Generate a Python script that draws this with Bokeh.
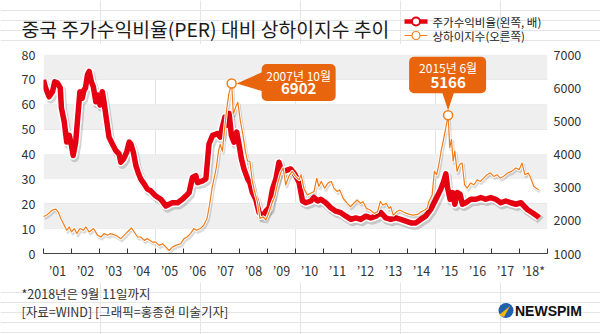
import numpy as np
from bokeh.plotting import figure
from bokeh.layouts import column
from bokeh.models import (Range1d, LinearAxis, FixedTicker, BoxAnnotation, Label, ColumnDataSource)
from bokeh.core.properties import value
from bokeh.transform import dodge
from bokeh.embed import file_html
from bokeh.resources import INLINE

# ---------------- data ----------------
per_year = [2001.00, 2001.08, 2001.20, 2001.32, 2001.40, 2001.50, 2001.60, 2001.64, 2001.74, 2001.83,
            2001.92, 2002.00, 2002.06, 2002.15, 2002.24, 2002.30, 2002.38, 2002.45, 2002.50, 2002.57,
            2002.63, 2002.71, 2002.78, 2002.87, 2002.95, 2003.02, 2003.10, 2003.16, 2003.26, 2003.34,
            2003.46, 2003.58, 2003.70, 2003.76, 2003.86, 2003.97, 2004.06, 2004.12, 2004.21, 2004.30,
            2004.38, 2004.47, 2004.60, 2004.71, 2004.83, 2005.01, 2005.19, 2005.37, 2005.49, 2005.60,
            2005.79, 2005.96, 2006.08, 2006.20, 2006.32, 2006.44, 2006.50, 2006.68, 2006.80, 2006.91,
            2007.04, 2007.21, 2007.31, 2007.39, 2007.48, 2007.55, 2007.63, 2007.71, 2007.80, 2007.90,
            2007.99, 2008.07, 2008.16, 2008.29, 2008.37, 2008.46, 2008.58, 2008.70, 2008.82, 2008.94,
            2009.06, 2009.18, 2009.30, 2009.41, 2009.50, 2009.65, 2009.83, 2009.97, 2010.13, 2010.25,
            2010.37, 2010.55, 2010.66, 2010.79, 2010.90, 2011.08, 2011.26, 2011.44, 2011.62, 2011.80,
            2011.98, 2012.15, 2012.33, 2012.51, 2012.69, 2012.87, 2013.05, 2013.22, 2013.40, 2013.58,
            2013.76, 2013.94, 2014.12, 2014.30, 2014.47, 2014.65, 2014.83, 2014.95, 2015.07, 2015.19,
            2015.28, 2015.37, 2015.43, 2015.52, 2015.61, 2015.69, 2015.78, 2015.88, 2015.96, 2016.08,
            2016.26, 2016.44, 2016.62, 2016.79, 2016.97, 2017.15, 2017.33, 2017.51, 2017.69, 2017.87,
            2018.05, 2018.16, 2018.28, 2018.46, 2018.64, 2018.70]
per_value = [69.8, 66.4, 63.0, 65.0, 69.0, 68.5, 66.6, 58.5, 53.0, 44.8,
             47.5, 43.4, 39.4, 44.8, 57.0, 65.0, 62.4, 65.8, 66.5, 71.9,
             73.2, 69.0, 67.0, 61.0, 63.7, 59.7, 65.0, 61.0, 53.0, 46.8,
             44.0, 41.4, 40.0, 36.7, 38.0, 40.7, 44.8, 44.0, 40.7, 35.3,
             32.6, 30.0, 27.9, 25.9, 25.2, 23.1, 21.8, 19.1, 19.8, 20.4,
             20.4, 21.8, 23.1, 24.5, 30.6, 31.3, 28.5, 29.2, 30.0, 44.0,
             47.5, 48.2, 46.8, 50.9, 54.9, 51.6, 56.3, 47.5, 44.8, 48.8,
             43.4, 38.0, 34.0, 30.0, 28.5, 24.5, 21.8, 16.4, 15.0, 17.0,
             18.4, 25.9, 30.0, 36.7, 33.3, 33.3, 34.0, 32.0, 28.5, 21.1,
             20.4, 21.1, 22.5, 21.1, 21.8, 20.4, 18.4, 17.0, 16.4, 15.0,
             13.7, 14.3, 13.7, 15.0, 14.3, 15.0, 16.4, 14.3, 13.7, 14.3,
             13.7, 13.0, 12.3, 12.3, 13.7, 15.0, 17.7, 20.4, 23.1, 25.9,
             28.5, 32.0, 26.5, 21.8, 24.5, 19.8, 24.5, 23.8, 19.8, 20.4,
             21.8, 21.8, 22.5, 21.8, 22.5, 21.8, 20.4, 21.1, 20.4, 19.8,
             20.4, 19.1, 17.7, 16.4, 15.0, 14.3]

sh_year = [2001.00, 2001.14, 2001.32, 2001.44, 2001.52, 2001.62, 2001.74, 2001.83, 2001.92, 2002.00,
           2002.10, 2002.19, 2002.30, 2002.43, 2002.51, 2002.63, 2002.79, 2002.93, 2003.05, 2003.16,
           2003.29, 2003.40, 2003.58, 2003.76, 2003.94, 2004.06, 2004.14, 2004.24, 2004.36, 2004.47,
           2004.60, 2004.71, 2004.89, 2005.01, 2005.13, 2005.25, 2005.37, 2005.49, 2005.60, 2005.72,
           2005.90, 2006.02, 2006.13, 2006.25, 2006.37, 2006.46, 2006.60, 2006.72, 2006.84, 2006.93,
           2007.02, 2007.07, 2007.17, 2007.25, 2007.31, 2007.39, 2007.46, 2007.55, 2007.62, 2007.72,
           2007.78, 2007.86, 2007.94, 2008.03, 2008.12, 2008.21, 2008.29, 2008.37, 2008.46, 2008.54,
           2008.64, 2008.73, 2008.85, 2008.94, 2009.06, 2009.18, 2009.26, 2009.35, 2009.47, 2009.56,
           2009.65, 2009.76, 2009.88, 2010.00, 2010.13, 2010.20, 2010.30, 2010.42, 2010.54, 2010.66,
           2010.76, 2010.83, 2010.92, 2011.04, 2011.16, 2011.28, 2011.37, 2011.49, 2011.58, 2011.70,
           2011.85, 2011.96, 2012.08, 2012.20, 2012.32, 2012.41, 2012.53, 2012.67, 2012.81, 2012.93,
           2013.03, 2013.12, 2013.24, 2013.34, 2013.40, 2013.49, 2013.61, 2013.72, 2013.84, 2013.96,
           2014.08, 2014.19, 2014.37, 2014.49, 2014.61, 2014.70, 2014.76, 2014.88, 2014.96, 2015.04,
           2015.12, 2015.20, 2015.30, 2015.37, 2015.45, 2015.51, 2015.57, 2015.63, 2015.69, 2015.77,
           2015.86, 2015.95, 2016.04, 2016.13, 2016.25, 2016.37, 2016.49, 2016.60, 2016.72, 2016.84,
           2016.96, 2017.08, 2017.20, 2017.31, 2017.43, 2017.57, 2017.72, 2017.87, 2017.99, 2018.09,
           2018.19, 2018.31, 2018.40, 2018.51, 2018.60, 2018.69]
sh_value = [2106, 2179, 2310, 2340, 2258, 2057, 1853, 1700, 1801, 1649,
            1752, 1600, 1752, 1700, 1801, 1649, 1752, 1548, 1497, 1600,
            1548, 1600, 1548, 1448, 1600, 1700, 1771, 1649, 1497, 1497,
            1396, 1448, 1344, 1344, 1244, 1295, 1192, 1091, 1192, 1244,
            1295, 1448, 1497, 1600, 1752, 1700, 1752, 1853, 2057, 2462,
            2970, 3172, 3580, 4086, 4290, 4086, 4695, 5408, 5813, 6124,
            5203, 5408, 5560, 5000, 4594, 4086, 3781, 3781, 3172, 2867,
            2563, 2057, 2106, 2005, 2258, 2563, 2715, 3071, 3428, 3580,
            3071, 3324, 3476, 3324, 3224, 3376, 2970, 2767, 2818, 2867,
            3275, 3020, 3172, 2970, 3123, 3172, 2970, 2867, 2919, 2666,
            2514, 2410, 2514, 2614, 2514, 2563, 2361, 2310, 2209, 2258,
            2563, 2462, 2514, 2361, 2410, 2157, 2258, 2310, 2258, 2209,
            2180, 2157, 2180, 2258, 2310, 2361, 2563, 2767, 3476, 3376,
            3680, 4086, 4494, 4798, 5166, 4189, 4442, 3781, 4086, 3476,
            3680, 3730, 3071, 2970, 3123, 3071, 3224, 3172, 3275, 3376,
            3428, 3324, 3376, 3275, 3324, 3428, 3476, 3580, 3530, 3730,
            3376, 3428, 3275, 3020, 2970, 2919]

year_ticks = list(range(2001, 2020))
year_labels = ["’01", "’02", "’03", "’04", "’05", "’06", "’07", "’08", "’09",
               "’10", "’11", "’12", "’13", "’14", "’15", "’16", "’17", "’18*"]
left_ticks = [0, 10, 20, 30, 40, 50, 60, 70, 80]
right_ticks = [1000, 2000, 3000, 4000, 5000, 6000, 7000]
band_ranges = [(10, 20), (30, 40), (50, 60), (70, 80)]

title_text = "중국 주가수익비율(PER) 대비 상하이지수 추이"
legend_labels = ["주가수익비율(왼쪽, 배)", "상하이지수(오른쪽)"]
callout_2007 = ("2007년 10월", "6902")
callout_2015 = ("2015년 6월", "5166")
note_lines = ["*2018년은 9월 11일까지", "[자료=WIND] [그래픽=홍종현 미술기자]"]

# ---------------- style ----------------
RED = "#e50012"
ORANGE = "#f07d1a"
BOX_ORANGE = "#e8650e"
BAND = "#efefef"
FONT = "Noto Sans CJK KR"

W = 600
TOP_H, CHART_H, BOT_H = 44, 238, 52
FL, FR, FT, FB = 43, 53, 10, 29
X0, X1 = 2001, 2019
L0, L1 = 0, 80
R0, R1 = 1000, 7000
FRAME_W = W - FL - FR
FRAME_H = CHART_H - FT - FB


def blank(height):
    f = figure(width=W, height=height, output_backend="svg", toolbar_location=None, title=None,
               x_range=Range1d(0, W), y_range=Range1d(height, 0),
               x_axis_location=None, y_axis_location=None, frame_align=False,
               min_border_left=0, min_border_right=0, min_border_top=0, min_border_bottom=0)
    f.outline_line_color = None
    f.background_fill_color = "white"
    f.border_fill_color = "white"
    return f


# ---------------- header: title + legend (y measured from the top of the picture) ----------------
top = blank(TOP_H)
top.text(x=[21], y=[28], text=[title_text], text_font=value(FONT), text_font_size="19.3px",
         text_baseline="middle", text_color="#1a1a1a")
top.line(x=[404, 427], y=[21, 21], line_color=RED, line_width=4.5)
top.scatter(x=[415.5], y=[21], size=8, fill_color="white", line_color=RED, line_width=2)
top.line(x=[404, 427], y=[35, 35], line_color=ORANGE, line_width=1.2)
top.scatter(x=[415.5], y=[35], size=8, fill_color="white", line_color=ORANGE, line_width=1.2)
top.text(x=[432, 432], y=[21, 35], text=legend_labels, text_font=value(FONT),
         text_font_size="11.5px", text_baseline="middle", text_color="#222222")

# ---------------- chart ----------------
p = figure(width=W, height=CHART_H, output_backend="svg", toolbar_location=None, title=None,
           x_range=Range1d(X0, X1), y_range=Range1d(L0, L1), frame_align=False,
           x_axis_location=None, y_axis_location=None,
           min_border_left=FL, min_border_right=FR, min_border_top=FT, min_border_bottom=FB)
p.outline_line_color = None
p.background_fill_color = "white"
p.border_fill_color = "white"
p.extra_y_ranges = {"idx": Range1d(R0, R1)}

for lo, hi in band_ranges:
    p.add_layout(BoxAnnotation(bottom=lo, top=hi, fill_color=BAND, fill_alpha=1.0,
                               line_color=None, level="underlay"))

xaxis = LinearAxis(ticker=FixedTicker(ticks=[y + 0.5 for y in year_ticks[:-1]], minor_ticks=year_ticks),
                   major_label_overrides={y + 0.5: lab for y, lab in zip(year_ticks[:-1], year_labels)})
xaxis.major_tick_line_color = None
xaxis.major_tick_in = 0
xaxis.major_tick_out = 0
xaxis.minor_tick_in = 5
xaxis.minor_tick_out = 0
xaxis.minor_tick_line_color = "#333333"
xaxis.axis_line_color = "#444444"
xaxis.major_label_standoff = 7
xaxis.major_label_text_font = FONT
xaxis.major_label_text_font_size = "12.5px"
xaxis.major_label_text_color = "#333333"
p.add_layout(xaxis, "below")


def style_y(ax, standoff):
    ax.axis_line_color = None
    ax.major_tick_line_color = None
    ax.minor_tick_line_color = None
    ax.major_tick_in = 0
    ax.major_tick_out = 0
    ax.major_label_standoff = standoff
    ax.major_label_text_font = FONT
    ax.major_label_text_font_size = "12.5px"
    ax.major_label_text_color = "#333333"


yl = LinearAxis(ticker=FixedTicker(ticks=left_ticks))
style_y(yl, 8)
p.add_layout(yl, "left")
yr = LinearAxis(y_range_name="idx", ticker=FixedTicker(ticks=right_ticks))
style_y(yr, 6)
p.add_layout(yr, "right")


def dx(px):
    return px * (X1 - X0) / FRAME_W


def dl(px):
    return px * (L1 - L0) / FRAME_H


def di(px):
    return px * (R1 - R0) / FRAME_H


# PER line (shadow, halo, line)
src_per = ColumnDataSource(dict(x=per_year, y=per_value))
p.line(x=dodge("x", dx(1.5)), y=dodge("y", -dl(2.5)), source=src_per,
       line_color="black", line_alpha=0.17, line_width=8.5, line_join="round")
p.line("x", "y", source=src_per, line_color="white", line_width=8.5, line_join="round")
p.line("x", "y", source=src_per, line_color=RED, line_width=5.5, line_join="round")

# Shanghai index line
src_sh = ColumnDataSource(dict(x=sh_year, y=sh_value))
p.line(x=dodge("x", dx(1.2)), y=dodge("y", -di(2.0)), source=src_sh, y_range_name="idx",
       line_color="black", line_alpha=0.14, line_width=3, line_join="round")
p.line("x", "y", source=src_sh, y_range_name="idx", line_color="white", line_width=3, line_join="round")
p.line("x", "y", source=src_sh, y_range_name="idx", line_color=ORANGE, line_width=1.2, line_join="round")

# peaks
sx = np.array(sh_year)
sv = np.array(sh_value)


def peak(year):
    m = (sx >= year) & (sx < year + 1)
    i = np.where(m)[0][np.argmax(sv[m])]
    return float(sx[i]), float(sv[i])


ax7, ay7 = peak(2007)
ax15, ay15 = peak(2015)

p.patch(x=[ax7 + dx(5), ax7 + dx(32), ax7 + dx(32)], y=[ay7, ay7 + di(12), ay7 - di(8)],
        y_range_name="idx", fill_color=BOX_ORANGE, line_color=None)
p.patch(x=[ax15, ax15 - dx(6), ax15 + dx(6)], y=[ay15 + di(5), ay15 + di(23), ay15 + di(23)],
        y_range_name="idx", fill_color=BOX_ORANGE, line_color=None)

peak_src = ColumnDataSource(dict(x=[ax7, ax15], y=[ay7, ay15]))
p.scatter("x", "y", source=peak_src, y_range_name="idx", size=9, fill_color="white",
          line_color=ORANGE, line_width=1.5)

p.add_layout(BoxAnnotation(left=ax7 + dx(30), right=ax7 + dx(104), top=ay7 + di(19.5),
                           bottom=ay7 - di(17.5), y_range_name="idx", fill_color=BOX_ORANGE,
                           fill_alpha=1.0, line_color=None, border_radius=5))
p.add_layout(BoxAnnotation(left=ax15 - dx(39), right=ax15 + dx(38), top=ay15 + di(58.5),
                           bottom=ay15 + di(22), y_range_name="idx", fill_color=BOX_ORANGE,
                           fill_alpha=1.0, line_color=None, border_radius=5))


def data_label(x, y, text, xo, yo, size, bold=False):
    p.add_layout(Label(x=x, y=y, y_range_name="idx", x_offset=xo, y_offset=yo, text=text,
                       text_align="center", text_baseline="middle", text_color="white",
                       text_font=FONT, text_font_size=size,
                       text_font_style="bold" if bold else "normal"))


data_label(ax7, ay7, callout_2007[0], 67, 8, "12px")
data_label(ax7, ay7, callout_2007[1], 67, -5, "15px", bold=True)
data_label(ax15, ay15, callout_2015[0], 0, 48, "12px")
data_label(ax15, ay15, callout_2015[1], 0, 33, "15px", bold=True)

# ---------------- footer: notes + logo (y measured from the top of the footer) ----------------
bot = blank(BOT_H)
bot.text(x=[21, 21], y=[11, 29], text=note_lines, text_font=value(FONT), text_font_size="12.5px",
         text_baseline="middle", text_color="#333333")
bot.scatter(x=[505.5], y=[28], size=15, fill_color="#1f5fae", line_color=None)
bot.patch(x=[498.5, 509.5, 503.5], y=[32.5, 23.5, 34.5], fill_color="#f5b800", line_color=None)
bot.text(x=[514.5], y=[28], text=["NEWSPIM"], text_font=value("Liberation Sans"),
         text_font_size="14px", text_font_style="bold", text_baseline="middle", text_color="#111111")

layout = column(top, p, bot, spacing=0)

with open("out.html", "w") as f:
    f.write(file_html(layout, INLINE))
